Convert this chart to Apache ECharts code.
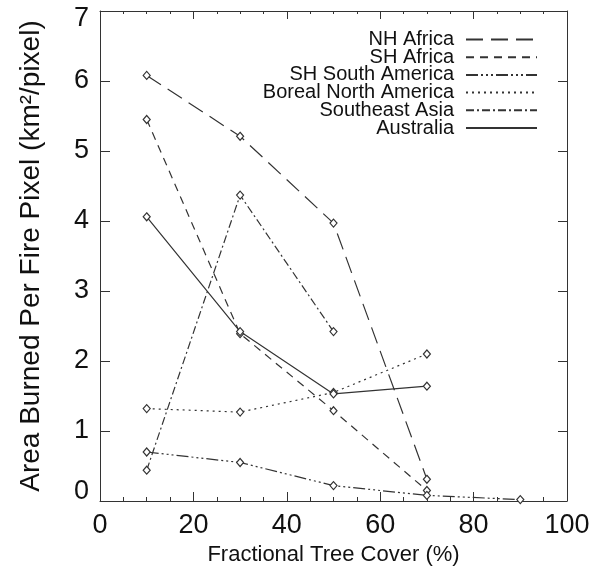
<!DOCTYPE html>
<html>
<head>
<meta charset="utf-8">
<script src="https://cdn.jsdelivr.net/npm/echarts@6/dist/echarts.min.js"></script>
<style>html,body{margin:0;padding:0;background:#fff;}#c{width:601px;height:572px;}</style>
</head>
<body>
<div id="c"></div>
<script>
const treeCover = [10, 30, 50, 70, 90];
const nhAfrica = [6.08, 5.21, 3.97, 0.31, null];
const shAfrica = [5.45, 2.39, 1.29, 0.15, null];
const shSouthAmerica = [0.70, 0.55, 0.22, 0.08, 0.02];
const borealNorthAmerica = [1.32, 1.27, 1.55, 2.10, null];
const southeastAsia = [0.44, 4.37, 2.42, null, null];
const australia = [4.06, 2.42, 1.53, 1.64, null];
const xTicks = [0, 20, 40, 60, 80, 100];
const yTicks = [0, 1, 2, 3, 4, 5, 6, 7];

const seriesDefs = [
  {name: 'NH Africa', data: nhAfrica, dash: [17, 8]},
  {name: 'SH Africa', data: shAfrica, dash: [8, 6]},
  {name: 'SH South America', data: shSouthAmerica, dash: [12, 3, 2, 3, 2, 3, 2, 3]},
  {name: 'Boreal North America', data: borealNorthAmerica, dash: [2, 4]},
  {name: 'Southeast Asia', data: southeastAsia, dash: [8, 3, 2, 3]},
  {name: 'Australia', data: australia, dash: 'solid'}
];

const FONT = 'Liberation Sans, Arial, sans-serif';
const chart = echarts.init(document.getElementById('c'), null, {renderer: 'canvas'});

function pairs(arr) {
  const out = [];
  arr.forEach((v, i) => { if (v !== null) out.push([treeCover[i], v]); });
  return out;
}

const axisLineStyle = {color: '#333', width: 1};
const yMin = yTicks[0], yMax = yTicks[yTicks.length - 1];

chart.setOption({
  animation: false,
  backgroundColor: '#fff',
  grid: {left: 100, right: 34, top: 11, bottom: 71},
  legend: {
    orient: 'vertical',
    align: 'right',
    right: 63,
    top: 29.5,
    padding: 0,
    itemWidth: 71,
    itemHeight: 10,
    itemGap: -2.3,
    itemStyle: {opacity: 0},
    textStyle: {fontFamily: FONT, fontSize: 20, color: '#111', padding: [0, 7, 0, 0]},
    data: seriesDefs.map(s => s.name)
  },
  xAxis: [
    {
      type: 'value', position: 'bottom', min: xTicks[0], max: xTicks[xTicks.length - 1], interval: 20,
      name: 'Fractional Tree Cover (%)', nameLocation: 'middle', nameGap: 40,
      nameTextStyle: {fontFamily: FONT, fontSize: 22, color: '#111'},
      axisLine: {show: true, onZero: false, lineStyle: axisLineStyle},
      axisTick: {show: true, inside: true, length: 9, lineStyle: axisLineStyle},
      minorTick: {show: true, splitNumber: 4, length: 4, lineStyle: axisLineStyle},
      axisLabel: {fontFamily: FONT, fontSize: 27, color: '#111', margin: 11},
      splitLine: {show: false}
    },
    {
      type: 'value', position: 'top', min: xTicks[0], max: xTicks[xTicks.length - 1], interval: 20,
      axisLine: {show: true, onZero: false, lineStyle: axisLineStyle},
      axisTick: {show: true, inside: true, length: 8, lineStyle: axisLineStyle},
      minorTick: {show: true, splitNumber: 4, length: 3, lineStyle: axisLineStyle},
      axisLabel: {show: false},
      splitLine: {show: false}
    }
  ],
  yAxis: [
    {
      type: 'value', position: 'left', min: yMin, max: yMax, interval: 1,
      name: 'Area Burned Per Fire Pixel (km²/pixel)', nameLocation: 'middle', nameGap: 55,
      nameTextStyle: {fontFamily: FONT, fontSize: 28, color: '#111'},
      axisLine: {show: true, onZero: false, lineStyle: axisLineStyle},
      axisTick: {show: true, inside: true, length: 10, lineStyle: axisLineStyle},
      axisLabel: {
        fontFamily: FONT, fontSize: 27, color: '#111', margin: 11,
        formatter: v => v === yMax ? '{t|' + v + '}' : (v === yMin ? '{b|' + v + '}' : String(v)),
        rich: {
          t: {fontFamily: FONT, fontSize: 27, color: '#111', padding: [16, 0, 0, 0]},
          b: {fontFamily: FONT, fontSize: 27, color: '#111', padding: [0, 0, 18, 0]}
        }
      },
      splitLine: {show: false}
    },
    {
      type: 'value', position: 'right', min: yMin, max: yMax, interval: 1,
      axisLine: {show: true, onZero: false, lineStyle: axisLineStyle},
      axisTick: {show: true, inside: true, length: 9, lineStyle: axisLineStyle},
      axisLabel: {show: false},
      splitLine: {show: false}
    }
  ],
  series: seriesDefs.map(s => ({
    name: s.name,
    type: 'line',
    xAxisIndex: 0,
    yAxisIndex: 0,
    data: pairs(s.data),
    symbol: 'diamond',
    symbolSize: [7, 8],
    showAllSymbol: true,
    itemStyle: {color: '#fff', borderColor: '#333', borderWidth: 1.2},
    lineStyle: {color: '#333', width: 1.2, type: s.dash},
    emphasis: {disabled: true},
    z: 3
  }))
});
</script>
</body>
</html>
